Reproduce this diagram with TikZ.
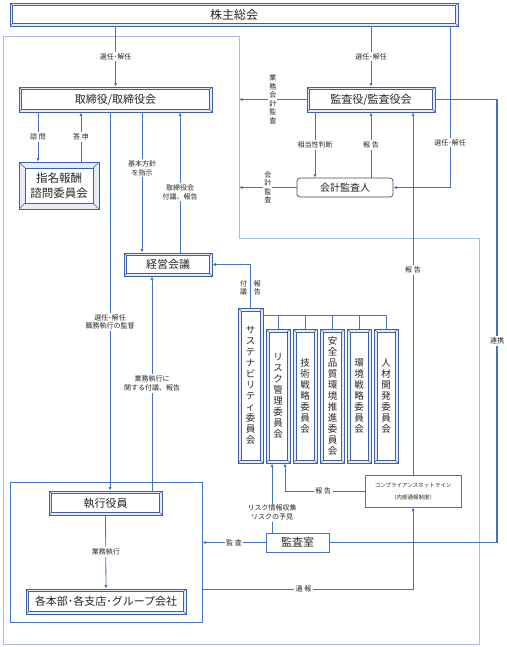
\documentclass[tikz,border=0pt]{standalone}
\usepackage{fontspec}
\setmainfont{Noto Sans CJK JP}
\usetikzlibrary{positioning, arrows.meta, calc}
\definecolor{linecol}{RGB}{68,114,196}
\definecolor{framecol}{RGB}{60,95,170}
\definecolor{areacol}{RGB}{170,190,228}
\definecolor{txtcol}{RGB}{38,38,38}

\begin{document}
\begin{tikzpicture}[x=1pt, y=-1pt,
    bevel/.style={draw=framecol, fill=framecol!12, line width=0.6pt, inner sep=0pt,
      path picture={
        \draw[framecol, line width=0.5pt, fill=white]
          ([shift={(#1,#1)}]path picture bounding box.south west) rectangle
          ([shift={(-#1,-#1)}]path picture bounding box.north east);
        \draw[framecol, line width=0.4pt]
          (path picture bounding box.south west) -- ++(#1,#1)
          (path picture bounding box.south east) -- ++(-#1,#1)
          (path picture bounding box.north west) -- ++(#1,-#1)
          (path picture bounding box.north east) -- ++(-#1,-#1);
      }},
    bevel/.default=2.5pt,
    conn/.style={draw=linecol, line width=0.8pt, -{Latex[length=3.5pt, width=3pt]}},
    link/.style={draw=linecol, line width=0.8pt},
    lbl/.style={fill=white, inner sep=1.5pt, align=center, text=txtcol,
      font=\fontsize{7}{8.5}\selectfont},
    vlbl/.style={lbl, inner sep=1pt},
    bigtxt/.style={text=txtcol, font=\fontsize{11}{13}\selectfont},
    committee/.style={bevel=3pt, minimum width=24pt, minimum height=134pt, align=center,
      text=txtcol, font=\fontsize{9.5}{11}\selectfont}]
  \useasboundingbox (0,0) rectangle (506,647);

  \draw[areacol, line width=0.6pt] (3,36) -- (239,36) -- (239,238) -- (479,238)
    -- (479,644) -- (3,644) -- cycle;

  \node[bevel, bigtxt, minimum width=448pt, minimum height=23pt,
    font=\fontsize{12}{14}\selectfont] (kabu) at (234,14.5) {株主総会};
  \node[bevel, bigtxt, minimum width=193pt, minimum height=25pt] (tori) at (115.5,99.5) {取締役/取締役会};
  \node[bevel, bigtxt, minimum width=128pt, minimum height=25pt] (kansa) at (371,99.5) {監査役/監査役会};
  \node[bevel=6pt, bigtxt, minimum width=80pt, minimum height=47pt, align=center,
    font=\fontsize{11.5}{15}\selectfont] (shimei) at (59,185.5) {指名報酬\\諮問委員会};
  \node[draw=black!70, rounded corners=3pt, line width=0.7pt, fill=white, minimum width=96pt,
    minimum height=19pt, text=txtcol, font=\fontsize{10}{12}\selectfont] (kaikei) at (345,187.5) {会計監査人};
  \node[bevel, bigtxt, minimum width=88pt, minimum height=23pt] (keiei) at (168,264.5) {経営会議};

  \node[committee, minimum width=25pt, minimum height=155pt] (sus) at (250.5,385.5)
    {サ\\ス\\テ\\ナ\\ビ\\リ\\テ\\ィ\\委\\員\\会};
  \foreach \n/\x/\t in {risk/278/{リ\\ス\\ク\\管\\理\\委\\員\\会},
      gijutsu/305/{技\\術\\戦\\略\\委\\員\\会},
      anzen/332.5/{安\\全\\品\\質\\環\\境\\推\\進\\委\\員\\会},
      kankyo/359/{環\\境\\戦\\略\\委\\員\\会},
      jinzai/386/{人\\材\\開\\発\\委\\員\\会}}
    \node[committee] (\n) at (\x,396) {\t};

  \node[draw=linecol, line width=0.7pt, fill=white, minimum width=96pt, minimum height=32pt,
    align=center, text=txtcol, font=\fontsize{5.5}{12}\selectfont] (hotline) at (413,491)
    {コンプライアンスホットライン\\（内部通報制度）};
  \node[draw=linecol, line width=0.7pt, fill=white, minimum width=63pt, minimum height=19pt,
    text=txtcol, font=\fontsize{11}{13}\selectfont] (shitsu) at (297.5,542.5) {監査室};
  \node[draw=linecol, line width=0.8pt, minimum width=192pt, minimum height=140pt] (exec) at (106,552) {};
  \node[bevel, bigtxt, minimum width=113pt, minimum height=24pt] (shikko) at (105.5,503) {執行役員};
  \node[bevel, bigtxt, minimum width=160pt, minimum height=25pt] (kakubu) at (106,601.5) {各本部･各支店･グループ会社};

  \coordinate (selkk) at (450,0);
  \coordinate (renkei) at (497,0);
  \coordinate (gov) at (239,0);
  \coordinate (shimon) at (38,0);
  \coordinate (toshin) at (81,0);
  \coordinate (kantoku) at (110,0);
  \coordinate (hoshin) at (142,0);
  \coordinate (fugi) at (180,0);
  \coordinate (gyomu) at (152,0);
  \coordinate (soto) at (315,0);
  \coordinate (bus) at (0,315);
  \coordinate (rin) at ([xshift=-6pt]risk.south);
  \coordinate (rin2) at ([xshift=7pt]risk.south);
  \coordinate (tsuho) at ([yshift=-37pt]exec.east);

  \draw[conn] (kabu.south -| tori.north) -- node[lbl]{選任･解任} (tori.north);
  \draw[conn] (kabu.south -| kansa.north) -- node[lbl]{選任･解任} (kansa.north);
  \draw[conn] (kabu.south -| selkk) |- node[lbl, pos=0.36]{選任･解任} (kaikei.east);
  \draw[link, line width=1.6pt] (kansa.east) -- (kansa.east -| renkei)
    -- node[lbl, pos=0.545]{連携} (renkei |- shitsu.east) -- (shitsu.east);
  \draw[conn] (kansa.west) -- node[vlbl]{業\\務\\会\\計\\監\\査} (kansa.west -| gov);
  \draw[conn] (kansa.south -| soto) -- node[lbl]{相当性判断} (kaikei.north -| soto);
  \draw[conn] (kaikei.north -| kansa.south) -- node[lbl]{報 告} (kansa.south);
  \draw[conn] (kaikei.west) -- node[vlbl]{会\\計\\監\\査} (kaikei.west -| gov);
  \draw[conn] (hotline.north) -- node[lbl, pos=0.565]{報 告} (hotline.north |- kansa.south);

  \draw[conn] (tori.south -| shimon) -- node[lbl]{諮 問} (shimei.north -| shimon);
  \draw[conn] (shimei.north -| toshin) -- node[lbl]{答 申} (tori.south -| toshin);
  \draw[conn] (tori.south -| kantoku) -- node[lbl, pos=0.554]{選任･解任\\職務執行の監督} (shikko.north -| kantoku);
  \draw[conn] (tori.south -| hoshin) -- node[lbl, pos=0.4]{基本方針\\を指示} (keiei.north -| hoshin);
  \draw[conn] (keiei.north -| fugi) -- node[lbl, pos=0.43]{取締役会\\付議、報告} (tori.south -| fugi);
  \draw[conn] (sus.north) |- node[vlbl, pos=0.23, left=2pt]{付\\議}
    node[vlbl, pos=0.23, right=2pt]{報\\告} (keiei.east);
  \draw[link] (sus.east |- bus) -- (jinzai.north |- bus) -- (jinzai.north);
  \foreach \n in {risk, gijutsu, anzen, kankyo}
    \draw[link] (\n.north |- bus) -- (\n.north);

  \draw[conn] (shikko.north -| gyomu) -- node[lbl]{業務執行に\\関する付議、報告} (keiei.south -| gyomu);
  \draw[conn] (shikko.south) -- node[lbl]{業務執行} (kakubu.north);
  \draw[conn] (shitsu.west) -- node[lbl]{監 査} (shitsu.west -| exec.east);
  \draw[conn] (shitsu.north -| rin) -- node[lbl, pos=0.29]{リスク情報収集\\リスクの予見} (rin);
  \draw[conn] (hotline.west) -| node[lbl, pos=0.26]{報 告} (rin2);
  \draw[conn] (tsuho) -| node[lbl, pos=0.24]{通 報} (hotline.south);
\end{tikzpicture}
\end{document}
